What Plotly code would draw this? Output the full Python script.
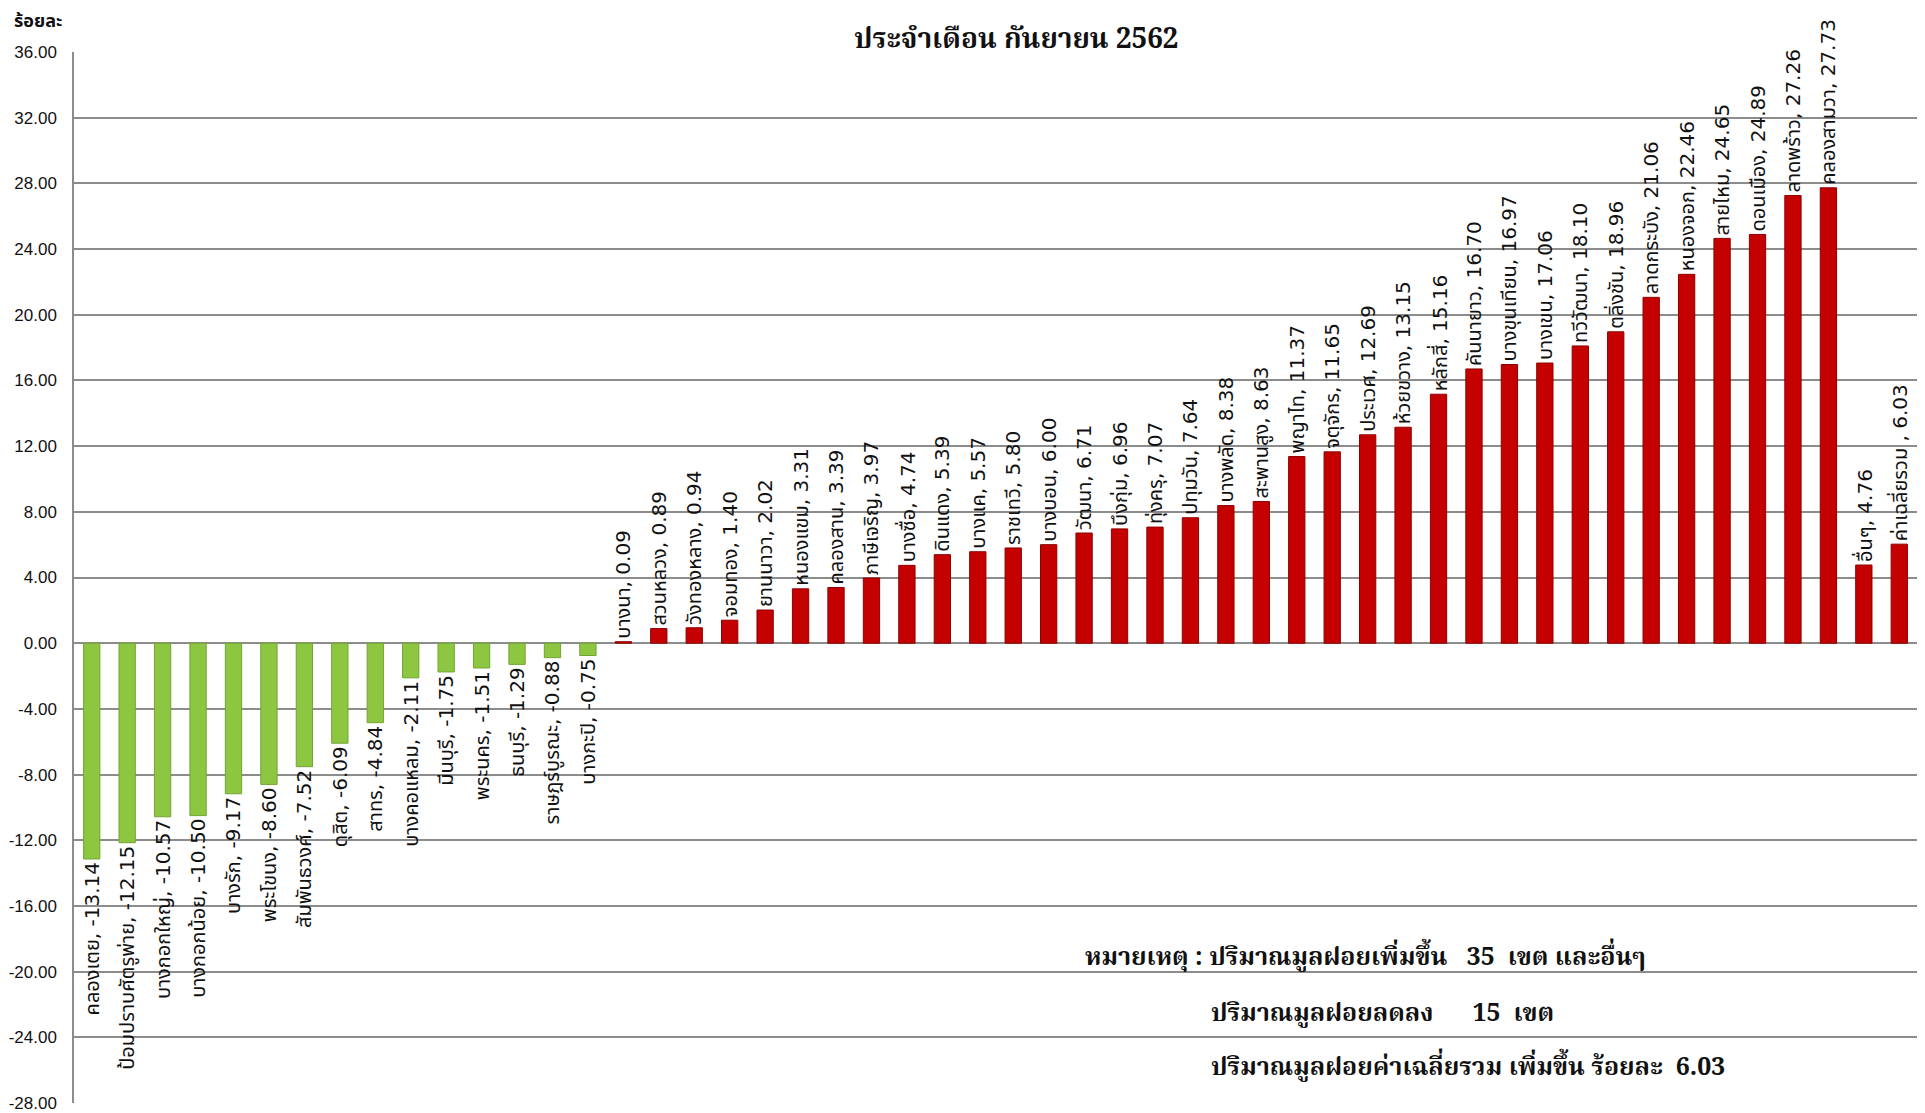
import plotly.graph_objects as go

# ---- data ----
districts_down = ["คลองเตย", "ป้อมปราบศัตรูพ่าย", "บางกอกใหญ่", "บางกอกน้อย", "บางรัก",
                  "พระโขนง", "สัมพันธวงศ์", "ดุสิต", "สาทร", "บางคอแหลม",
                  "มีนบุรี", "พระนคร", "ธนบุรี", "ราษฎร์บูรณะ", "บางกะปิ"]
values_down = [-13.14, -12.15, -10.57, -10.50, -9.17, -8.60, -7.52, -6.09, -4.84, -2.11,
               -1.75, -1.51, -1.29, -0.88, -0.75]

districts_up = ["บางนา", "สวนหลวง", "วังทองหลาง", "จอมทอง", "ยานนาวา", "หนองแขม", "คลองสาน",
                "ภาษีเจริญ", "บางซื่อ", "ดินแดง", "บางแค", "ราชเทวี", "บางบอน", "วัฒนา",
                "บึงกุ่ม", "ทุ่งครุ", "ปทุมวัน", "บางพลัด", "สะพานสูง", "พญาไท", "จตุจักร",
                "ประเวศ", "ห้วยขวาง", "หลักสี่", "คันนายาว", "บางขุนเทียน", "บางเขน",
                "ทวีวัฒนา", "ตลิ่งชัน", "ลาดกระบัง", "หนองจอก", "สายไหม", "ดอนเมือง",
                "ลาดพร้าว", "คลองสามวา", "อื่นๆ", "ค่าเฉลี่ยรวม "]
values_up = [0.09, 0.89, 0.94, 1.40, 2.02, 3.31, 3.39, 3.97, 4.74, 5.39, 5.57, 5.80, 6.00,
             6.71, 6.96, 7.07, 7.64, 8.38, 8.63, 11.37, 11.65, 12.69, 13.15, 15.16, 16.70,
             16.97, 17.06, 18.10, 18.96, 21.06, 22.46, 24.65, 24.89, 27.26, 27.73, 4.76, 6.03]

y_ticks = [36, 32, 28, 24, 20, 16, 12, 8, 4, 0, -4, -8, -12, -16, -20, -24, -28]

title_text = "ประจำเดือน กันยายน 2562"
y_title = "ร้อยละ"
notes = ["หมายเหตุ : ปริมาณมูลฝอยเพิ่มขึ้น   35  เขต และอื่นๆ",
         "ปริมาณมูลฝอยลดลง      15  เขต",
         "ปริมาณมูลฝอยค่าเฉลี่ยรวม เพิ่มขึ้น ร้อยละ  6.03"]

THAI = "Tahoma, 'DejaVu Sans', 'Noto Sans Thai', Garuda, Loma, sans-serif"
THAI_SERIF = "'Angsana New', 'TH Sarabun New', 'Noto Serif Thai', Norasi, 'Liberation Serif', serif"

# plot area (page pixels): x 74..1917, y 52..1103 ; page body offset 8px
PL, PR, PT, PB = 74, 1917, 52, 1103
OFF = 8
W, H = 1925, 1113
PW, PH = PR - PL, PB - PT

fig = go.Figure()
fig.add_trace(go.Bar(
    x=districts_down, y=values_down,
    marker=dict(color="#8DC641", line=dict(color="#72A432", width=1)),
    text=[f"{n}, {v:.2f}" for n, v in zip(districts_down, values_down)],
    textposition="outside", textangle=-90, constraintext="none", cliponaxis=False,
    textfont=dict(family=THAI, size=20, color="#111111"),
    showlegend=False,
))
fig.add_trace(go.Bar(
    x=districts_up, y=values_up,
    marker=dict(color="#C50000", line=dict(color="#8E0000", width=1)),
    text=[f"{n}, {v:.2f}" for n, v in zip(districts_up, values_up)],
    textposition="outside", textangle=-90, constraintext="none", cliponaxis=False,
    textfont=dict(family=THAI, size=20, color="#111111"),
    showlegend=False,
))

fig.update_layout(
    width=W, height=H,
    margin=dict(l=PL - OFF, r=W - (PR - OFF), t=PT - OFF, b=H - (PB - OFF)),
    plot_bgcolor="white", paper_bgcolor="white",
    bargap=0.54, barmode="overlay",
    font=dict(family=THAI, color="#111111"),
)
fig.update_xaxes(showticklabels=False, showgrid=False, showline=False, zeroline=False,
                 automargin=False,
                 categoryorder="array", categoryarray=districts_down + districts_up,
                 range=[-0.5, len(districts_down) + len(districts_up) - 0.5])
fig.update_yaxes(range=[-28, 36], tickvals=y_ticks, ticktext=[f"{t:.2f}" for t in y_ticks],
                 automargin=False,
                 showgrid=True, gridcolor="#8C8C8C", gridwidth=1.5,
                 zeroline=False, showline=True, linecolor="#8C8C8C", linewidth=1.5,
                 tickfont=dict(family="'Liberation Sans', Arial, sans-serif",
                               size=17, color="#111111"),
                 ticklabelstandoff=12)

fig.add_annotation(text=f"<b>{title_text}</b>", xref="paper", yref="paper",
                   x=(1017 - PL) / PW, y=1 + (PT - 40) / PH, xanchor="center", yanchor="middle",
                   showarrow=False, font=dict(family=THAI_SERIF, size=28, color="#111111"))
fig.add_annotation(text=f"<b>{y_title}</b>", xref="paper", yref="paper",
                   x=(12 - PL) / PW, y=1 + (PT - 20) / PH, xanchor="left", yanchor="middle",
                   showarrow=False, font=dict(family=THAI, size=18, color="#111111"))

note_pos = [(1083, 958), (1209, 1014), (1209, 1068)]
for txt, (px, py) in zip(notes, note_pos):
    fig.add_annotation(text=f"<b>{txt}</b>", xref="paper", yref="paper",
                       x=(px - PL) / PW, y=(PB - py) / PH, xanchor="left", yanchor="middle",
                       showarrow=False, font=dict(family=THAI_SERIF, size=25, color="#111111"))

fig.write_html("out.html")
